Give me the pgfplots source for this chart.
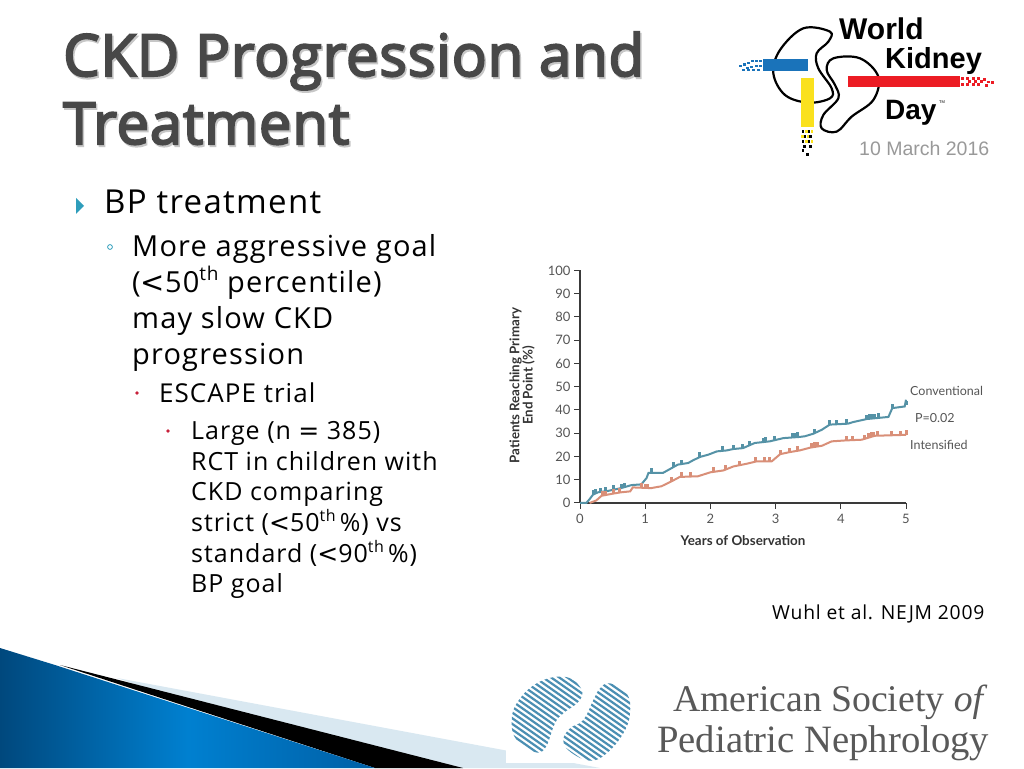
\documentclass[border=0pt]{standalone}
\usepackage{fontspec}
\usepackage{pgfplots}
\pgfplotsset{compat=1.18}
\setmainfont[LetterSpace=4]{Open Sans}
\newfontfamily\titlefont[LetterSpace=1.4,FakeBold=3.5]{Open Sans}
\newfontfamily\chartfont{Lato}
\newfontfamily\logofont{Liberation Sans}
\newfontfamily\serifpart{Liberation Serif}
\newfontfamily\widesym{DejaVu Sans}
\definecolor{conv}{HTML}{5592A6}
\definecolor{inten}{HTML}{D98F78}
\definecolor{ticktxt}{HTML}{555555}
\definecolor{axisblk}{HTML}{3A3A3A}
\definecolor{titlegray}{HTML}{484848}
\definecolor{teal}{HTML}{2E9DBB}
\definecolor{dotred}{HTML}{C8203A}
\definecolor{hatch}{HTML}{4B8FB3}
\definecolor{wedge}{HTML}{D9E8F1}
\definecolor{bluedark}{HTML}{00487D}
\definecolor{bluemid}{HTML}{0080D0}
\definecolor{blueright}{HTML}{005FA5}
\definecolor{logoblue}{HTML}{1A73BA}
\definecolor{logored}{HTML}{EC1C24}
\definecolor{logoyellow}{HTML}{FAE11E}
\pgfdeclareplotmark{censor}{%
  \pgfpathmoveto{\pgfqpoint{-1.5pt}{0pt}}%
  \pgfpathlineto{\pgfqpoint{1.5pt}{0pt}}%
  \pgfpathlineto{\pgfqpoint{1.5pt}{4.5pt}}%
  \pgfpathlineto{\pgfqpoint{-1.5pt}{4.5pt}}%
  \pgfpathclose\pgfusepathqfill}
\newcommand{\fs}[1]{\fontsize{#1}{#1}\selectfont}
\newcommand{\sth}[1]{\raisebox{0.42em}{\fontsize{#1}{#1}\selectfont th}}
\newcommand{\wlt}{{\widesym<}}
\begin{document}
\begin{tikzpicture}[x=1pt,y=1pt]
\path[use as bounding box,fill=white] (0,0) rectangle (1024,768);

% bottom swoosh
\fill[wedge] (117,90) -- (600,0) -- (375,0) -- cycle;
\fill[white] (506,5) rectangle (650,50);
\fill[black] (60,103) -- (375,0) -- (463,0) -- cycle;
\shade[left color=bluedark,right color=blueright,middle color=bluemid] (0,120) -- (55,103) -- (375,0) -- (0,0) -- cycle;

% title
\foreach \dx/\dy/\c in {1.5/-2/black!22,0/0/titlegray}{
  \node[anchor=base west,inner sep=0,text=\c,font=\titlefont\fs{58}] at (63+\dx,692+\dy) {CKD Progression and};
  \node[anchor=base west,inner sep=0,text=\c,font=\titlefont\fs{58}] at (63+\dx,624+\dy) {Treatment};
}

% bullets
\fill[teal] (76,570) -- (84,562) -- (76,554) -- cycle;
\draw[teal,line width=0.8pt] (110,521) circle (2.4);
\fill[dotred] (137,375) circle (1.9);
\fill[dotred] (168,337) circle (1.9);

\node[anchor=base west,inner sep=0,font=\fs{33}] at (104,554) {BP treatment};
\node[anchor=base west,inner sep=0,font=\fs{29}] at (132,511) {More aggressive goal};
\node[anchor=base west,inner sep=0,font=\fs{29}] at (132,475) {(\wlt 50\sth{19} percentile)};
\node[anchor=base west,inner sep=0,font=\fs{29}] at (132,439) {may slow CKD};
\node[anchor=base west,inner sep=0,font=\fs{29}] at (132,403) {progression};
\node[anchor=base west,inner sep=0,font=\fs{26}] at (159,365) {ESCAPE trial};
\node[anchor=base west,inner sep=0,font=\fs{25}] at (191,328) {Large (n {\widesym=} 385)};
\node[anchor=base west,inner sep=0,font=\fs{25}] at (191,297) {RCT in children with};
\node[anchor=base west,inner sep=0,font=\fs{25}] at (191,267) {CKD comparing};
\node[anchor=base west,inner sep=0,font=\fs{25}] at (191,236) {strict (\wlt 50\sth{16}\,\%) vs};
\node[anchor=base west,inner sep=0,font=\fs{25}] at (191,205) {standard (\wlt 90\sth{16}\,\%)};
\node[anchor=base west,inner sep=0,font=\fs{25}] at (191,175) {BP goal};
\node[anchor=base west,inner sep=0,font=\fs{19.3}] at (772,149) {Wuhl et al. NEJM 2009};

% World Kidney Day logo, coordinates in zoomed pixels
\begin{scope}[shift={(720,768)},x=0.3333pt,y=-0.3333pt]
  \draw[black,line width=2.2pt] plot[smooth cycle,tension=0.6] coordinates
    {(330,95) (250,85) (180,150) (160,220) (195,285) (265,308) (330,295) (335,265) (295,205) (290,160) (325,125)};
  \draw[black,line width=2.2pt] plot[smooth cycle,tension=0.6] coordinates
    {(340,175) (420,175) (475,230) (460,300) (395,350) (350,395) (305,385) (310,345) (355,295) (345,255) (320,210)};
  \fill[logoblue] (130,177) rectangle (265,213);
  \foreach \a/\b in {118/180,105/180,92/180,80/185,68/190,56/195,118/195,105/195,90/197,78/200,110/207,95/207,80/207,65/207}
    \fill[logoblue] (\a,\b) rectangle +(9,7);
  \fill[logored] (385,228) rectangle (720,262);
  \foreach \a/\b in {722/232,738/232,755/232,772/232,788/234,722/250,738/250,755/250,772/250,795/252,745/241,762/241,780/241,800/242,812/244}
    \fill[logored] (\a,\b) rectangle +(9,8);
  \fill[logoyellow] (243,235) rectangle (283,380);
  \foreach \a/\b in {245/390,262/390,250/405,268/405,245/420,262/420,250/435,268/435,245/448,258/460}
    \fill[black] (\a,\b) rectangle +(8,8);
  \foreach \a/\b in {256/390,272/390,244/405,260/405,256/420,272/420}
    \fill[logoyellow] (\a,\b) rectangle +(7,8);
\end{scope}
\node[anchor=base west,inner sep=0,font=\logofont\bfseries\fs{30}] at (839,728) {World};
\node[anchor=base west,inner sep=0,font=\logofont\bfseries\fs{29}] at (885,699) {Kidney};
\node[anchor=base west,inner sep=0,font=\logofont\bfseries\fs{28}] at (885,648) {Day};
\node[anchor=base west,inner sep=0,font=\logofont\fs{4}] at (939,664) {TM};
\node[anchor=base west,inner sep=0,text=black!40,font=\logofont\fs{19.5}] at (859,612) {10 March 2016};

% ASPN logo
\begin{scope}[shift={(500,98)},x=0.3333pt,y=-0.3333pt]
  \begin{scope}
    \clip plot[smooth cycle,tension=0.7] coordinates
      {(190,20) (240,50) (240,90) (190,130) (165,160) (135,235) (100,245) (50,210) (35,160) (50,100) (110,40)};
    \foreach \k in {-12,...,18}
      \draw[hatch,line width=2.2pt] (0,17*\k) -- (300,17*\k+210);
  \end{scope}
  \begin{scope}
    \clip plot[smooth cycle,tension=0.7] coordinates
      {(330,40) (380,70) (390,130) (370,190) (320,250) (270,272) (210,245) (190,210) (210,175) (250,150) (280,90) (300,55)};
    \foreach \k in {-18,...,18}
      \draw[hatch,line width=2.2pt] (150,17*\k) -- (450,17*\k+210);
  \end{scope}
\end{scope}
\node[anchor=base west,inner sep=0,text=black!65,font=\serifpart\fs{37.7}] at (673,57) {American Society \textit{of}};
\node[anchor=base west,inner sep=0,text=black!65,font=\serifpart\fs{38.7}] at (657,16) {Pediatric Nephrology};

% chart
\begin{axis}[
  at={(580pt,265pt)},anchor=south west,
  scale only axis,width=326pt,height=232.6pt,
  xmin=0,xmax=5,ymin=0,ymax=100,
  axis lines=left,
  axis line style={-,axisblk,line width=1.1pt},
  xtick={0,1,2,3,4,5},
  ytick={0,10,...,100},
  tick style={axisblk,line width=1pt},
  tick align=outside,
  major tick length=6pt,
  clip=false,
  /pgf/number format/assume math mode=true,
  tick label style={font=\chartfont\fs{13},text=ticktxt},
  xticklabel style={yshift=-1.5pt},
  xlabel={Years of Observation},
  xlabel style={font=\chartfont\bfseries\fs{13.4},text=black!80,at={(axis description cs:0.5,0)},anchor=base,yshift=-43pt},
  ylabel={Patients Reaching Primary\\End Point (\%)},
  ylabel style={font=\chartfont\bfseries\fs{13.3},text=black!80,align=center,at={(axis description cs:0,0.505)},anchor=center,yshift=58pt},
]
\addplot[conv,line width=2pt] coordinates {
  (0,0) (0.097,0) (0.148,1.7) (0.2,3.6) (0.276,4.6) (0.43,5.2) (0.63,6.4)
  (0.79,7.7) (0.94,8) (1.02,10.7) (1.05,12.9) (1.27,12.9) (1.38,14.6)
  (1.5,16.5) (1.66,17.2) (1.73,18.3) (1.84,19.8) (1.97,20.8) (2.1,22.2)
  (2.25,22.6) (2.35,23.2) (2.5,23.6) (2.68,25.8) (2.91,26.5) (3.12,27.9)
  (3.37,28.4) (3.45,28.7) (3.58,29.8) (3.71,31.5) (3.83,33.7) (4.11,34.1)
  (4.19,34.8) (4.4,36.1) (4.73,37) (4.79,40.8) (4.98,41.5) (5,44.4)
};
\addplot[inten,line width=2pt] coordinates {
  (0.148,0) (0.25,1.1) (0.33,3.1) (0.48,3.9) (0.63,4.6) (0.77,5) (0.81,6.7)
  (1.09,6.4) (1.25,7.2) (1.35,8.6) (1.45,10) (1.53,11.2) (1.81,11.5)
  (2,13.2) (2.2,14) (2.35,15.7) (2.56,16.9) (2.71,17.9) (2.94,17.9)
  (3.07,21) (3.22,21.9) (3.37,22.6) (3.53,23.8) (3.71,24.6) (3.86,26.5)
  (4.07,26.9) (4.32,27.2) (4.52,28.9) (5,29.3)
};
\addplot[only marks,conv,mark=censor] coordinates {
  (0.2,3.6) (0.24,4) (0.31,4.7) (0.39,5) (0.52,5.6) (0.63,6.4) (0.68,6.8)
  (1.1,12.9) (1.44,15.6) (1.55,16.7) (1.84,19.8) (2.18,22.4) (2.35,23.2)
  (2.49,23.6) (2.6,24.8) (2.81,26.2) (2.85,26.3) (2.99,27) (3.26,28.2)
  (3.3,28.3) (3.34,28.4) (3.6,30) (3.83,33.7) (3.94,33.8) (4.09,34.1)
  (4.4,36.1) (4.44,36.2) (4.48,36.3) (4.52,36.4) (4.58,36.6) (4.8,40.8)
  (5,42)
};
\addplot[only marks,inten,mark=censor] coordinates {
  (0.34,3.1) (0.39,3.4) (0.52,4) (0.6,4.4) (0.95,6.5) (1,6.4) (1.04,6.4)
  (1.4,9.3) (1.55,11.2) (1.69,11.3) (2.04,13.4) (2.23,14.3) (2.45,16.2)
  (2.69,17.8) (2.83,17.9) (2.9,17.9) (3.07,21) (3.22,21.9) (3.34,22.5)
  (3.55,23.9) (3.6,24.2) (3.65,24.4) (4.09,26.9) (4.18,27) (4.37,27.5)
  (4.42,28) (4.47,28.4) (4.5,28.7) (4.57,29) (4.77,29.1) (4.92,29.2) (5,29.3)
};
\end{axis}
\node[anchor=base west,inner sep=0,text=ticktxt,font=\chartfont\fs{12.5}] at (910,372) {Conventional};
\node[anchor=base west,inner sep=0,text=ticktxt,font=\chartfont\fs{12.5}] at (915,345) {P=0.02};
\node[anchor=base west,inner sep=0,text=ticktxt,font=\chartfont\fs{12.5}] at (910,318) {Intensified};
\end{tikzpicture}
\end{document}
